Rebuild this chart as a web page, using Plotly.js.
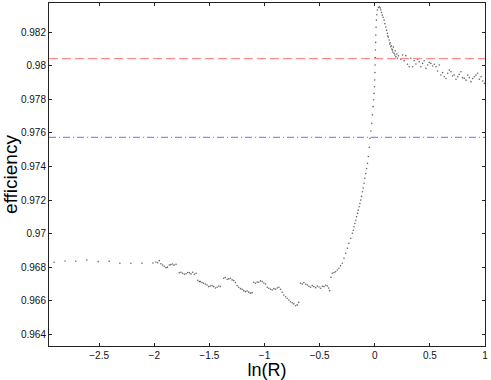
<!DOCTYPE html>
<html>
<head>
<meta charset="utf-8">
<script src="https://cdn.plot.ly/plotly-3.0.1.min.js"></script>
<style>
  html, body { margin: 0; padding: 0; background: #fff; }
  #chart { width: 491px; height: 380px; }
</style>
</head>
<body>
<div id="chart"></div>
<script>
// ln(R) values of the scatter points
let lnR = [
  -2.909, -2.809, -2.712, -2.612, -2.509, -2.409, -2.312, -2.212, -2.112, -2.012,
  -1.985, -1.970, -1.955, -1.940, -1.925, -1.910, -1.894, -1.880, -1.864, -1.850, -1.834, -1.820, -1.803,
  -1.773, -1.758, -1.743, -1.727, -1.712, -1.697, -1.682, -1.667, -1.652, -1.637, -1.621, -1.605,
  -1.591, -1.582, -1.567, -1.552, -1.536, -1.521, -1.506, -1.491, -1.476, -1.461, -1.445, -1.430, -1.415, -1.400,
  -1.370, -1.355, -1.339, -1.324, -1.309, -1.294, -1.279, -1.264,
  -1.249, -1.234, -1.218, -1.203, -1.188, -1.173, -1.158, -1.143, -1.127, -1.112,
  -1.097, -1.082, -1.067, -1.052, -1.036, -1.021, -1.006, -0.991,
  -0.976, -0.961, -0.945, -0.930, -0.915, -0.900, -0.885, -0.870, -0.855, -0.840,
  -0.825, -0.809, -0.794, -0.779, -0.764, -0.749, -0.734, -0.718, -0.703, -0.690,
  -0.673, -0.658, -0.643, -0.627, -0.612, -0.597, -0.582, -0.567, -0.552, -0.536,
  -0.521, -0.506, -0.491, -0.476, -0.461, -0.445, -0.430, -0.418, -0.409,
  -0.397, -0.385, -0.370, -0.355, -0.340, -0.325, -0.310, -0.294, -0.279, -0.264,
  -0.248, -0.234, -0.218, -0.203, -0.195, -0.188, -0.180, -0.172, -0.165, -0.157,
  -0.150, -0.142, -0.135, -0.127, -0.120, -0.112, -0.105, -0.097, -0.090, -0.082,
  -0.074, -0.066, -0.058, -0.050, -0.043, -0.035, -0.027, -0.021, -0.015, -0.010,
  -0.006, -0.003, 0.000, 0.002, 0.003, 0.005, 0.006, 0.008, 0.009, 0.012,
  0.015, 0.019, 0.023, 0.033, 0.043,
  0.050, 0.055, 0.062, 0.068, 0.076, 0.085, 0.092, 0.100, 0.108, 0.115,
  0.118, 0.123, 0.130, 0.136, 0.140, 0.145, 0.150, 0.155, 0.161, 0.164,
  0.169, 0.175, 0.182, 0.186, 0.191, 0.200, 0.206, 0.215,
  0.235, 0.252, 0.267, 0.282, 0.297, 0.312, 0.327, 0.343, 0.358, 0.373,
  0.388, 0.403, 0.418, 0.434, 0.448, 0.464, 0.479, 0.494, 0.509, 0.525,
  0.540, 0.555, 0.570, 0.585, 0.600, 0.615, 0.630, 0.646, 0.661, 0.676,
  0.691, 0.706, 0.721, 0.737, 0.752, 0.767, 0.782, 0.797, 0.812, 0.828,
  0.843, 0.858, 0.873, 0.888, 0.903, 0.918, 0.934, 0.949, 0.964, 0.979, 0.994
];

// efficiency at each point
let efficiency = [
  0.96829, 0.96837, 0.96835, 0.96843, 0.96833, 0.96835, 0.96823, 0.96823, 0.96823, 0.96825,
  0.96831, 0.96826, 0.96839, 0.96820, 0.96813, 0.96805, 0.96797, 0.96800, 0.96813, 0.96815, 0.96819, 0.96812, 0.96817,
  0.96767, 0.96770, 0.96764, 0.96758, 0.96761, 0.96768, 0.96766, 0.96760, 0.96770, 0.96758, 0.96764, 0.96722,
  0.96714, 0.96714, 0.96708, 0.96704, 0.96700, 0.96694, 0.96684, 0.96688, 0.96690, 0.96684, 0.96676, 0.96680, 0.96688, 0.96684,
  0.96734, 0.96738, 0.96728, 0.96730, 0.96734, 0.96724, 0.96720, 0.96708,
  0.96690, 0.96680, 0.96672, 0.96668, 0.96660, 0.96654, 0.96658, 0.96651, 0.96645, 0.96648,
  0.96710, 0.96704, 0.96712, 0.96710, 0.96718, 0.96714, 0.96706, 0.96700,
  0.96680, 0.96674, 0.96668, 0.96664, 0.96672, 0.96668, 0.96676, 0.96680, 0.96668, 0.96650,
  0.96634, 0.96624, 0.96615, 0.96604, 0.96594, 0.96588, 0.96581, 0.96570, 0.96575, 0.96590,
  0.96704, 0.96700, 0.96708, 0.96698, 0.96694, 0.96686, 0.96680, 0.96690, 0.96684, 0.96678,
  0.96688, 0.96682, 0.96674, 0.96686, 0.96684, 0.96692, 0.96688, 0.96676, 0.96660,
  0.96740, 0.96764, 0.96768, 0.96773, 0.96783, 0.96793, 0.96808, 0.96823, 0.96853, 0.96883,
  0.96913, 0.96942, 0.96972, 0.97002, 0.97020, 0.97041, 0.97060, 0.97080, 0.97100, 0.97121,
  0.97140, 0.97160, 0.97180, 0.97200, 0.97222, 0.97250, 0.97272, 0.97300, 0.97330, 0.97358,
  0.97388, 0.97419, 0.97460, 0.97515, 0.97568, 0.97612, 0.97658, 0.97708, 0.97757, 0.97798,
  0.97836, 0.97876, 0.97916, 0.97960, 0.98005, 0.98050, 0.98095, 0.98140, 0.98184, 0.98230,
  0.98273, 0.98305, 0.98333, 0.98348, 0.98353,
  0.98345, 0.98333, 0.98318, 0.98303, 0.98290, 0.98273, 0.98252, 0.98232, 0.98212, 0.98194,
  0.98178, 0.98172, 0.98154, 0.98130, 0.98138, 0.98114, 0.98120, 0.98100, 0.98095, 0.98083,
  0.98112, 0.98075, 0.98065, 0.98090, 0.98055, 0.98071, 0.98045, 0.98060,
  0.98040, 0.98065, 0.98030, 0.98061, 0.98010, 0.97995, 0.98045, 0.97995, 0.98031, 0.98011,
  0.98040, 0.98025, 0.97995, 0.98015, 0.98031, 0.97985, 0.98005, 0.98020, 0.98015, 0.97999,
  0.98010, 0.97995, 0.97970, 0.98005, 0.97946, 0.97960, 0.97935, 0.97925, 0.97956, 0.97975,
  0.97965, 0.97940, 0.97946, 0.97920, 0.97935, 0.97950, 0.97965, 0.97930, 0.97926, 0.97915,
  0.97946, 0.97930, 0.97906, 0.97925, 0.97935, 0.97945, 0.97956, 0.97920, 0.97935, 0.97910, 0.97896
];

// horizontal reference levels
let refLevels = [0.98043, 0.97574];
let refColors = ['#ff8a8a', '#8a8aff'];
let refDashes = ['9px,4px', '7px,3px,1px,3px'];

let xTicks = [-2.5, -2, -1.5, -1, -0.5, 0, 0.5, 1];
let yTicks = [0.964, 0.966, 0.968, 0.97, 0.972, 0.974, 0.976, 0.978, 0.98, 0.982];

let pts = {
  x: lnR,
  y: efficiency,
  mode: 'markers',
  type: 'scatter',
  marker: { size: 1.6, color: 'rgba(0,0,0,0.6)' },
  hoverinfo: 'none'
};

let refShapes = refLevels.map(function (v, i) {
  return {
    type: 'line', xref: 'paper', yref: 'y',
    x0: 0, x1: 1, y0: v, y1: v,
    line: { color: refColors[i], width: 1.2, dash: refDashes[i] }
  };
});

let axisStyle = {
  showline: true, mirror: 'ticks', linecolor: '#222', linewidth: 1,
  ticks: 'inside', ticklen: 3, tickcolor: '#222',
  showgrid: false, zeroline: false,
  tickfont: { family: 'Liberation Sans, Arial, sans-serif', size: 10, color: '#111' }
};

let layout = {
  width: 491, height: 380,
  margin: { l: 49, r: 6, t: 3, b: 34 },
  paper_bgcolor: '#fff', plot_bgcolor: '#fff',
  showlegend: false,
  shapes: refShapes,
  xaxis: Object.assign({}, axisStyle, {
    range: [-2.955, 1.0],
    tickvals: xTicks,
    title: { text: 'ln(R)', standoff: 4,
      font: { family: 'Liberation Sans, Arial, sans-serif', size: 18, color: '#000' } }
  }),
  yaxis: Object.assign({}, axisStyle, {
    range: [0.9633, 0.98375],
    tickvals: yTicks,
    title: { text: 'efficiency', standoff: 4,
      font: { family: 'Liberation Sans, Arial, sans-serif', size: 19, color: '#000' } }
  })
};

Plotly.newPlot('chart', [pts], layout, { displayModeBar: false, staticPlot: true });
</script>
</body>
</html>
